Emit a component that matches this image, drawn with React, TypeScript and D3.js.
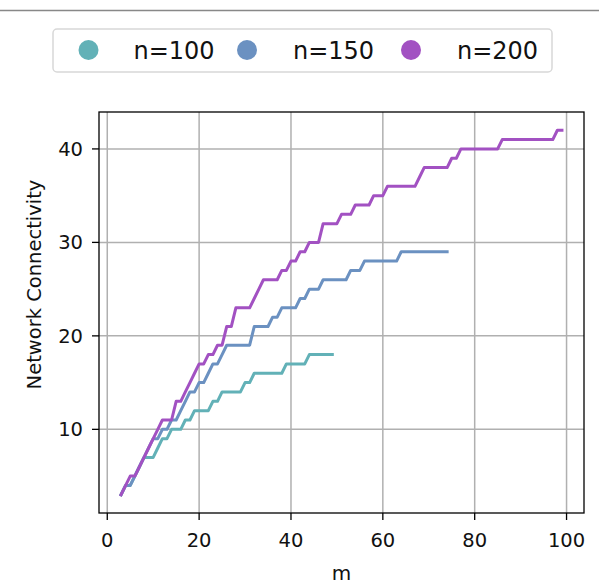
import React from "react";
import * as d3 from "d3";

const seriesNames = ["n=100", "n=150", "n=200"];
const seriesColors = ["#62b1b7", "#6b91c1", "#a251c2"];

const mStart = 3;
const n100 = [3,4,4,5,6,7,7,7,8,9,9,10,10,10,11,11,12,12,12,12,13,13,14,14,14,14,14,15,15,16,16,16,16,16,16,16,17,17,17,17,17,18,18,18,18,18,18];
const n150 = [3,4,4,5,6,7,8,9,9,10,10,11,11,12,13,14,14,15,15,16,17,17,18,19,19,19,19,19,19,21,21,21,21,22,22,23,23,23,23,24,24,25,25,25,26,26,26,26,26,26,27,27,27,28,28,28,28,28,28,28,28,29,29,29,29,29,29,29,29,29,29,29];
const n200 = [3,4,5,5,6,7,8,9,10,11,11,11,13,13,14,15,16,17,17,18,18,19,19,21,21,23,23,23,23,24,25,26,26,26,26,27,27,28,28,29,29,30,30,30,32,32,32,32,33,33,33,34,34,34,34,35,35,35,36,36,36,36,36,36,36,37,38,38,38,38,38,38,39,39,40,40,40,40,40,40,40,40,40,41,41,41,41,41,41,41,41,41,41,41,41,42,42];
const seriesValues = [n100, n150, n200];

const xTicks = [0, 20, 40, 60, 80, 100];
const yTicks = [10, 20, 30, 40];

const W = 599, H = 585;
const L = 99, R = 584, T = 112, B = 513;
const FONT = "DejaVu Sans, sans-serif";

export default function App() {
  const x = d3.scaleLinear().domain([-1.8, 103.8]).range([L, R]);
  const y = d3.scaleLinear().domain([1.05, 43.95]).range([B, T]);
  const line = d3.line<[number, number]>().x(d => x(d[0])).y(d => y(d[1]));

  const legendMarkerX = [88.5, 247, 411];
  const legendTextX = [133.5, 293, 457];

  return (
    <svg width={W} height={H} style={{ position: "absolute", left: 0, top: 0 }} fontFamily={FONT}>
      <rect x={0} y={0} width={W} height={H} fill="#fff" />
      <line x1={0} x2={W} y1={10.5} y2={10.5} stroke="#888" strokeWidth={1.5} />
      {/* legend */}
      <rect x={53} y={29} width={499} height={43} rx={4} fill="#fff" stroke="#d8d8d8" strokeWidth={1.5} />
      {seriesNames.map((s, i) => (
        <g key={s}>
          <circle cx={legendMarkerX[i]} cy={50} r={10} fill={seriesColors[i]} />
          <text x={legendTextX[i]} y={50} dy="0.36em" fontSize={24} fill="#111">{s}</text>
        </g>
      ))}
      {/* grid */}
      {xTicks.map(t => (
        <line key={"gx" + t} x1={x(t)} x2={x(t)} y1={T} y2={B} stroke="#b0b0b0" strokeWidth={1.5} />
      ))}
      {yTicks.map(t => (
        <line key={"gy" + t} x1={L} x2={R} y1={y(t)} y2={y(t)} stroke="#b0b0b0" strokeWidth={1.5} />
      ))}
      {/* lines */}
      {seriesValues.map((vals, i) => (
        <path key={i} d={line(vals.map((v, j) => [mStart + j, v]))!} fill="none" stroke={seriesColors[i]} strokeWidth={3} strokeLinejoin="round" strokeLinecap="square" />
      ))}
      {/* frame */}
      <rect x={L} y={T} width={R - L} height={B - T} fill="none" stroke="#000" strokeWidth={1.3} />
      {xTicks.map(t => (
        <g key={"tx" + t}>
          <line x1={x(t)} x2={x(t)} y1={B} y2={B + 7} stroke="#000" strokeWidth={1.3} />
          <text x={x(t)} y={B + 34} textAnchor="middle" fontSize={19.5} fill="#111">{t}</text>
        </g>
      ))}
      {yTicks.map(t => (
        <g key={"ty" + t}>
          <line x1={L - 7} x2={L} y1={y(t)} y2={y(t)} stroke="#000" strokeWidth={1.3} />
          <text x={L - 16} y={y(t)} dy="0.36em" textAnchor="end" fontSize={19.5} fill="#111">{t}</text>
        </g>
      ))}
      <text x={(L + R) / 2} y={580} textAnchor="middle" fontSize={20} fill="#111">m</text>
      <text transform={`translate(41,${(T + B) / 2 - 28}) rotate(-90)`} textAnchor="middle" fontSize={19.5} fill="#111">Network Connectivity</text>
    </svg>
  );
}
